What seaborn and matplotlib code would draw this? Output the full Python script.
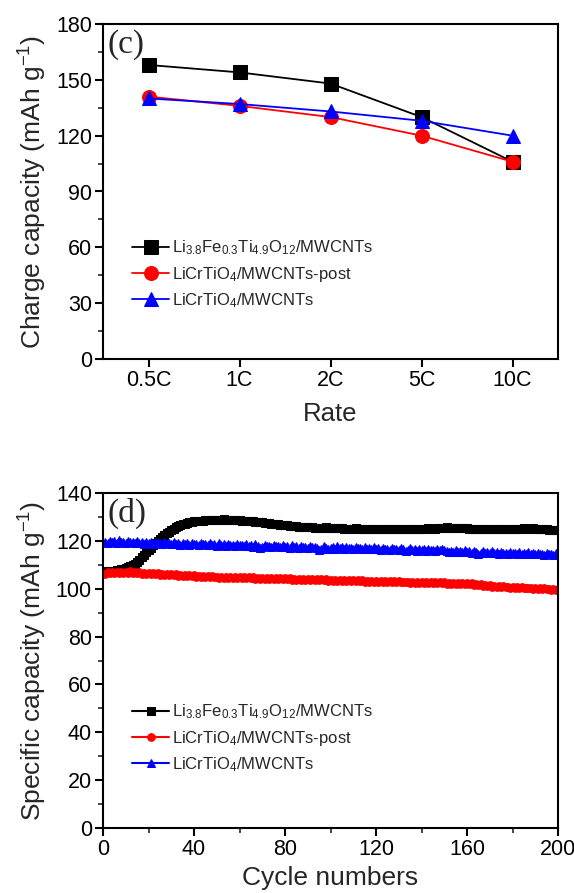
import matplotlib
matplotlib.use("Agg")
import matplotlib.pyplot as plt
from matplotlib.ticker import MultipleLocator
import numpy as np
import pandas as pd
import seaborn as sns

# ---- rate capability (panel c) ----
rates = ["0.5C", "1C", "2C", "5C", "10C"]
rate_lfto = [158, 154, 148, 130, 106]
rate_lcto_post = [141, 136, 130, 120, 106]
rate_lcto = [140, 137, 133, 128, 120]

# ---- cycling performance (panel d), cycles 1..200 ----
cyc_lfto = [
    107.0, 107.2, 107.3, 107.5, 107.6, 107.8, 108.0, 108.1, 108.3, 108.6, 108.9, 109.3, 109.8, 110.5, 111.3, 112.2, 113.2, 114.2, 115.2, 116.2,
    117.2, 118.2, 119.1, 120.0, 120.9, 121.7, 122.5, 123.2, 123.9, 124.5, 125.1, 125.6, 126.1, 126.5, 126.9, 127.2, 127.5, 127.8, 128.0, 128.2,
    128.3, 128.4, 128.5, 128.5, 128.6, 128.6, 128.7, 128.7, 128.8, 128.8, 128.9, 128.9, 129.0, 128.9, 128.8, 128.8, 128.7, 128.7, 128.6, 128.6,
    128.5, 128.4, 128.4, 128.3, 128.2, 128.1, 128.0, 127.9, 127.8, 127.7, 127.6, 127.5, 127.4, 127.2, 127.1, 127.0, 126.9, 126.8, 126.7, 126.6,
    126.5, 126.4, 126.3, 126.2, 126.1, 126.0, 125.9, 125.8, 125.8, 125.7, 125.6, 125.6, 125.5, 125.5, 125.4, 125.4, 125.5, 125.6, 125.5, 125.4,
    125.3, 125.3, 125.2, 125.2, 125.2, 125.1, 125.1, 125.0, 125.0, 125.1, 125.2, 125.1, 125.0, 125.0, 124.9, 124.9, 125.0, 125.0, 125.1, 125.0,
    124.9, 125.0, 125.1, 125.0, 124.9, 125.0, 125.0, 125.1, 125.0, 124.9, 125.0, 125.1, 125.0, 124.9, 125.0, 125.0, 125.1, 125.0, 124.9, 125.0,
    125.0, 125.1, 125.2, 125.1, 125.0, 125.1, 125.2, 125.3, 125.4, 125.5, 125.6, 125.5, 125.4, 125.3, 125.4, 125.5, 125.4, 125.3, 125.2, 125.2,
    125.1, 125.0, 125.0, 124.9, 125.0, 125.0, 124.9, 124.8, 124.9, 125.0, 125.0, 124.9, 124.8, 124.9, 125.0, 125.0, 124.9, 124.9, 125.0, 125.0,
    125.1, 125.0, 125.0, 125.1, 125.2, 125.1, 125.0, 125.1, 125.2, 125.1, 125.0, 125.0, 124.9, 124.8, 124.8, 124.7, 124.6, 124.6, 124.5, 124.5,
]
cyc_lcto_post = [
    106.2, 106.8, 106.4, 107.0, 106.5, 106.9, 106.6, 107.1, 106.7, 107.0, 106.6, 107.2, 106.5, 106.9, 106.4, 106.8, 106.3, 106.7, 106.2, 106.6,
    106.1, 106.5, 106.0, 106.4, 105.9, 106.3, 105.8, 106.2, 105.7, 106.1, 105.6, 106.0, 105.5, 105.9, 105.4, 105.8, 105.3, 105.7, 105.2, 105.6,
    105.1, 105.5, 105.0, 105.4, 104.9, 105.3, 104.8, 105.2, 104.7, 105.1, 104.6, 105.0, 104.6, 105.0, 104.5, 104.9, 104.5, 104.9, 104.4, 104.8,
    104.4, 104.8, 104.3, 104.7, 104.3, 104.7, 104.2, 104.6, 104.2, 104.6, 104.1, 104.5, 104.1, 104.5, 104.0, 104.4, 104.0, 104.4, 103.9, 104.3,
    103.9, 104.3, 103.8, 104.2, 103.8, 104.2, 103.7, 104.1, 103.7, 104.1, 103.6, 104.0, 103.6, 104.0, 103.5, 103.9, 103.5, 103.9, 103.4, 103.8,
    103.4, 103.8, 103.3, 103.7, 103.3, 103.7, 103.2, 103.6, 103.2, 103.6, 103.1, 103.5, 103.1, 103.5, 103.0, 103.4, 103.0, 103.4, 102.9, 103.3,
    102.9, 103.3, 102.8, 103.2, 102.8, 103.2, 102.7, 103.1, 102.7, 103.1, 102.6, 103.0, 102.6, 103.0, 102.5, 102.9, 102.5, 102.9, 102.4, 102.8,
    102.4, 102.8, 102.3, 102.7, 102.3, 102.7, 102.2, 102.6, 102.2, 102.6, 102.1, 102.5, 102.1, 102.5, 102.0, 102.4, 102.0, 102.4, 101.9, 102.3,
    101.9, 102.2, 101.7, 102.0, 101.5, 101.8, 101.3, 101.6, 101.1, 101.4, 100.9, 101.2, 100.8, 101.1, 100.7, 101.0, 100.6, 100.9, 100.5, 100.8,
    100.4, 100.7, 100.3, 100.6, 100.2, 100.5, 100.1, 100.4, 100.0, 100.3, 99.9, 100.2, 99.8, 100.1, 99.7, 100.0, 99.6, 99.9, 99.5, 99.8,
]
cyc_lcto = [
    119.6, 119.2, 120.0, 119.4, 119.8, 119.1, 120.3, 119.5, 119.7, 119.0, 120.1, 119.4, 119.6, 118.9, 119.9, 119.3, 119.5, 118.8, 119.7, 119.2,
    119.4, 118.7, 119.6, 119.0, 119.3, 118.6, 119.5, 118.9, 119.2, 118.5, 119.4, 118.8, 119.1, 118.4, 119.3, 118.7, 118.9, 118.3, 119.2, 118.6,
    118.8, 118.2, 119.1, 118.5, 118.7, 118.1, 119.0, 118.4, 118.6, 118.0, 119.2, 118.3, 118.5, 117.9, 118.8, 118.2, 118.4, 117.8, 118.7, 118.1,
    118.3, 117.7, 118.6, 118.0, 118.2, 117.6, 118.5, 117.9, 117.1, 117.5, 118.4, 117.8, 118.0, 117.4, 118.3, 117.7, 117.9, 117.3, 118.2, 117.6,
    117.8, 117.2, 118.1, 117.5, 117.7, 117.1, 118.0, 117.4, 117.6, 117.0, 117.9, 117.3, 117.5, 116.9, 116.2, 116.5, 117.8, 117.2, 116.6, 117.0,
    117.4, 116.8, 117.7, 117.1, 117.3, 116.7, 117.6, 117.0, 117.2, 116.6, 117.5, 116.9, 117.1, 116.5, 117.4, 116.8, 117.0, 116.4, 117.3, 116.7,
    116.9, 116.3, 117.2, 116.6, 116.8, 116.2, 117.1, 116.5, 116.7, 116.1, 117.0, 116.4, 115.8, 116.0, 116.9, 116.3, 116.5, 115.9, 116.8, 116.2,
    116.4, 115.8, 116.7, 116.1, 116.3, 115.7, 116.6, 116.0, 116.8, 116.2, 115.9, 115.3, 115.6, 115.2, 116.1, 115.5, 115.8, 115.2, 116.0, 115.4,
    115.6, 115.0, 115.9, 115.3, 114.5, 115.1, 115.7, 115.1, 115.3, 114.8, 115.6, 115.0, 115.2, 114.7, 115.5, 114.9, 115.1, 114.6, 115.4, 114.8,
    115.0, 114.5, 115.3, 114.7, 114.9, 114.4, 115.2, 114.6, 114.8, 114.3, 115.1, 114.5, 114.7, 114.2, 115.0, 114.4, 114.6, 114.1, 114.9, 114.5,
]
cycles = list(range(1, len(cyc_lfto) + 1))

labels = [
    r"Li$_{3.8}$Fe$_{0.3}$Ti$_{4.9}$O$_{12}$/MWCNTs",
    r"LiCrTiO$_{4}$/MWCNTs-post",
    r"LiCrTiO$_{4}$/MWCNTs",
]
colors = ["black", "#ff0000", "#0000ff"]
markers = ["s", "o", "^"]

sns.set_theme(style="ticks")
plt.rcParams["font.family"] = ["Liberation Sans", "DejaVu Sans"]
plt.rcParams["mathtext.fontset"] = "custom"
plt.rcParams["mathtext.rm"] = "Liberation Sans"
plt.rcParams["mathtext.it"] = "Liberation Sans"
plt.rcParams["mathtext.bf"] = "Liberation Sans:bold"

fig = plt.figure(figsize=(5.74, 8.93), dpi=100)
ax1 = fig.add_axes([103 / 574, 1 - 359 / 893, 455 / 574, 335 / 893])
ax2 = fig.add_axes([103 / 574, 1 - 828 / 893, 455 / 574, 335 / 893])

# panel (c)
rate_df = pd.DataFrame({
    "Rate": rates * 3,
    "cap": rate_lfto + rate_lcto_post + rate_lcto,
    "series": [labels[0]] * 5 + [labels[1]] * 5 + [labels[2]] * 5,
})
for lab, col, mk in zip(labels, colors, markers):
    sub = rate_df[rate_df["series"] == lab]
    sns.lineplot(data=sub, x="Rate", y="cap", ax=ax1, color=col, marker=mk,
                 markersize=10, markeredgecolor=col, linewidth=1.3, label=lab,
                 sort=False)
ax1.set_xlim(-0.5, 4.5)
ax1.set_ylim(0, 180)
ax1.yaxis.set_major_locator(MultipleLocator(30))
ax1.yaxis.set_minor_locator(MultipleLocator(15))
ax1.set_xlabel("Rate", fontsize=18.5, labelpad=8)
ax1.set_ylabel(r"Charge capacity (mAh g$^{-1}$)", fontsize=19, labelpad=5)
ax1.text(0.01, 0.985, "(c)", transform=ax1.transAxes, ha="left", va="top",
         fontsize=24, family="Liberation Serif")
ax1.legend(loc="upper left", bbox_to_anchor=(0.05, 0.38), frameon=False,
           fontsize=12, handlelength=2.2, handletextpad=0.2, labelspacing=0.45,
           borderaxespad=0)

# panel (d)
cyc_df = pd.DataFrame({"cycle": cycles, "a": cyc_lfto, "b": cyc_lcto_post, "c": cyc_lcto})
for key, lab, col, mk in zip(["a", "b", "c"], labels, colors, markers):
    sns.lineplot(data=cyc_df, x="cycle", y=key, ax=ax2, color=col, marker=mk,
                 markersize=5.5, markeredgecolor=col, linewidth=1.5, label=lab)
ax2.set_xlim(0, 200)
ax2.set_ylim(0, 140)
ax2.xaxis.set_major_locator(MultipleLocator(40))
ax2.xaxis.set_minor_locator(MultipleLocator(20))
ax2.yaxis.set_major_locator(MultipleLocator(20))
ax2.yaxis.set_minor_locator(MultipleLocator(10))
ax2.set_xlabel("Cycle numbers", fontsize=19, labelpad=4)
ax2.set_ylabel(r"Specific capacity (mAh g$^{-1}$)", fontsize=19, labelpad=5)
ax2.text(0.01, 0.985, "(d)", transform=ax2.transAxes, ha="left", va="top",
         fontsize=24, family="Liberation Serif")
ax2.legend(loc="upper left", bbox_to_anchor=(0.05, 0.395), frameon=False,
           fontsize=12, handlelength=2.2, handletextpad=0.2, labelspacing=0.45,
           borderaxespad=0)

for ax in (ax1, ax2):
    for sp in ax.spines.values():
        sp.set_linewidth(1.5)
        sp.set_color("black")
    ax.tick_params(which="major", direction="out", length=6, width=1.5,
                   labelsize=15.5, pad=2, colors="black")
    ax.tick_params(which="minor", direction="out", length=3.5, width=1.2)
    ax.tick_params(top=False, right=False, which="both")
ax1.tick_params(axis="x", which="minor", bottom=False)

fig.savefig("out.png", dpi=100, facecolor="white")
